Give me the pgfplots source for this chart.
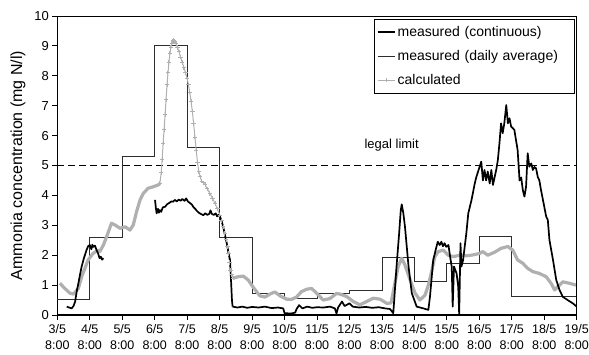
\documentclass[border=0pt]{standalone}
\usepackage{pgfplots}
\pgfplotsset{compat=1.18}
\usepackage{fontspec}
\setmainfont{Liberation Sans}
\definecolor{calcgray}{RGB}{176,176,176}
\definecolor{avggray}{RGB}{45,45,45}
\begin{document}
\begin{tikzpicture}
\useasboundingbox (-57.3pt,-40pt) rectangle (531.7pt,315pt);
\begin{axis}[
  scale only axis, width=519.4pt, height=299pt,
  xmin=0, xmax=16, ymin=0, ymax=10,
  axis x line*=bottom, axis y line*=left,
  x axis line style={line width=1.5pt, -},
  y axis line style={line width=1.5pt, -},
  xtick={0,...,16}, ytick={0,...,10},
  xticklabels={{3/5\\8:00},{4/5\\8:00},{5/5\\8:00},{6/5\\8:00},{7/5\\8:00},{8/5\\8:00},{9/5\\8:00},{10/5\\8:00},{11/5\\8:00},{12/5\\8:00},{13/5\\8:00},{14/5\\8:00},{15/5\\8:00},{16/5\\8:00},{17/5\\8:00},{18/5\\8:00},{19/5\\8:00}},
  xticklabel style={align=center, font=\fontsize{12.5}{16}\selectfont, yshift=-1pt},
  yticklabel style={font=\fontsize{13}{15}\selectfont},
  /pgf/number format/assume math mode=true,
  tick align=outside, major tick length=5pt,
  tick style={black, line width=0.8pt},
  ylabel={Ammonia concentration (mg N/l)},
  ylabel style={font=\fontsize{16}{18}\selectfont, at={(axis description cs:-0.0757,0.5)}, anchor=center},
  clip=false,
  legend style={at={(rel axis cs:0.9967,0.99)}, anchor=north east, draw=black, line width=0.6pt, font=\fontsize{14}{16}\selectfont, row sep=8.5pt, inner ysep=5pt, inner xsep=3pt,
    /tikz/every even column/.append style={text width=172pt}},
  legend cell align=left,
]
% legend
\addlegendimage{black, line width=1.8pt}
\addlegendentry{measured (continuous)}
\addlegendimage{avggray, line width=0.8pt}
\addlegendentry{measured (daily average)}
\addlegendimage{calcgray, line width=0.8pt, mark=+, mark size=2pt}
\addlegendentry{calculated}

% legal limit
\addplot[forget plot, black, line width=1.7pt, dash pattern=on 7pt off 4pt] coordinates {(0,5) (16,5)};
\node[font=\fontsize{13}{15}\selectfont] at (axis cs:10.3,5.69) {legal limit};

% daily average
\addplot[forget plot, const plot, avggray, line width=0.8pt] coordinates {
(0,0.52) (1,2.6) (2,5.3) (3,9.0) (4,5.6) (5,2.6) (6,0.73) (7,0.55) (8,0.73) (9,0.81) (10,1.93) (11,1.11) (12,1.73) (13,2.62) (14,0.61) (16,0.61)};

% calculated
\addplot[forget plot, calcgray, line width=3.2pt, line join=round] coordinates {
(0.08,1.06) (0.23,0.89) (0.39,0.73) (0.50,0.70) (0.65,0.89) (0.75,1.28) (0.85,1.56) (0.95,1.84) (1.10,2.06) (1.26,2.17) (1.31,2.12) (1.42,2.34) (1.52,2.62) (1.67,3.07) (1.78,3.01) (1.93,2.90) (2.09,2.95) (2.24,2.84) (2.34,3.01) (2.44,3.45) (2.55,3.85) (2.65,4.07) (2.80,4.24) (2.96,4.29) (3.11,4.35) (3.16,4.40)};
\addplot[forget plot, calcgray, line width=1pt, mark=+, mark size=2.2pt] coordinates {
(3.16,4.40) (3.20,4.75) (3.23,5.2) (3.26,5.75) (3.29,6.2) (3.32,6.7) (3.35,7.2) (3.38,7.7) (3.41,8.1) (3.44,8.45) (3.47,8.75) (3.50,8.95) (3.53,9.08) (3.56,9.17) (3.59,9.18) (3.62,9.15) (3.66,9.07) (3.70,8.95) (3.75,8.80) (3.80,8.62) (3.85,8.45) (3.90,8.28) (3.95,8.10) (4.00,7.90) (4.04,7.70) (4.08,7.45) (4.12,7.15) (4.16,6.80) (4.20,6.40) (4.24,5.95) (4.28,5.50) (4.32,5.10) (4.36,4.80) (4.40,4.62) (4.45,4.48) (4.50,4.42) (4.55,4.36) (4.62,4.22) (4.70,4.07) (4.78,3.90) (4.86,3.73) (4.93,3.55) (5.01,3.34) (5.06,3.15) (5.11,2.95) (5.16,2.72) (5.20,2.51) (5.24,2.28) (5.27,2.06) (5.31,1.75) (5.34,1.50) (5.38,1.35) (5.42,1.23)};
\addplot[forget plot, calcgray, line width=3.2pt, line join=round] coordinates {
(5.42,1.23) (5.57,1.28) (5.73,1.30) (5.88,1.17) (6.04,0.92) (6.24,0.64) (6.40,0.60) (6.55,0.70) (6.70,0.77) (6.86,0.64) (7.06,0.53) (7.21,0.52) (7.37,0.60) (7.52,0.78) (7.68,0.86) (7.83,0.89) (7.99,0.73) (8.19,0.50) (8.40,0.55) (8.60,0.72) (8.71,0.70) (8.91,0.62) (9.12,0.45) (9.32,0.34) (9.53,0.45) (9.73,0.56) (9.94,0.53) (10.15,0.39) (10.28,0.40) (10.40,1.06) (10.50,1.62) (10.61,1.90) (10.71,1.67) (10.87,1.17) (11.02,0.73) (11.17,0.50) (11.33,0.67) (11.43,1.00) (11.53,1.45) (11.63,1.95) (11.73,2.12) (11.89,2.17) (12.04,2.00) (12.20,1.95) (12.40,2.00) (12.61,1.98) (12.81,2.01) (13.01,2.06) (13.11,2.12) (13.26,2.00) (13.47,2.10) (13.67,2.23) (13.88,2.29) (14.03,2.17) (14.18,1.84) (14.34,1.73) (14.49,1.56) (14.65,1.45) (14.85,1.39) (15.06,1.28) (15.21,1.06) (15.32,0.84) (15.42,0.95) (15.57,1.11) (15.78,1.06) (15.98,1.00)};

% continuous measured
\addplot[forget plot, black, line width=1.7pt, line join=round] coordinates {
(0.29,0.28) (0.34,0.26) (0.44,0.22) (0.50,0.30) (0.55,0.45) (0.60,0.80) (0.65,1.06) (0.70,1.35) (0.75,1.62) (0.82,1.90) (0.90,2.17) (0.95,2.30) (1.00,2.34) (1.05,2.20) (1.08,2.35) (1.11,2.28) (1.16,2.32) (1.21,2.17) (1.26,2.05) (1.30,1.90) (1.34,1.95) (1.38,1.85) (1.42,1.90)};
\addplot[forget plot, black, line width=1.7pt, line join=round] coordinates {
(3.01,3.85) (3.04,3.55) (3.06,3.40) (3.10,3.55) (3.13,3.42) (3.16,3.51) (3.20,3.45) (3.25,3.60) (3.32,3.62) (3.38,3.70) (3.45,3.75) (3.52,3.80) (3.57,3.79) (3.62,3.85) (3.68,3.80) (3.74,3.86) (3.80,3.82) (3.85,3.88) (3.92,3.82) (3.97,3.90) (4.02,3.80) (4.08,3.75) (4.14,3.70) (4.20,3.60) (4.25,3.55) (4.30,3.48) (4.36,3.42) (4.42,3.38) (4.50,3.34) (4.56,3.40) (4.62,3.35) (4.68,3.38) (4.72,3.50) (4.76,3.38) (4.82,3.35) (4.88,3.40) (4.92,3.30) (4.97,3.35) (5.01,3.29) (5.06,3.15) (5.11,2.95) (5.16,2.70) (5.22,2.40) (5.27,2.10) (5.32,1.84) (5.35,1.20) (5.38,0.50) (5.40,0.28)};
\addplot[forget plot, black, line width=1.7pt, line join=round] coordinates {
(5.40,0.28) (5.55,0.25) (5.70,0.28) (5.85,0.24) (6.00,0.27) (6.20,0.25) (6.40,0.28) (6.60,0.23) (6.80,0.25) (6.96,0.22) (7.00,0.06) (7.20,0.05) (7.33,0.08) (7.37,0.20) (7.45,0.33) (7.55,0.22) (7.70,0.28) (7.85,0.24) (8.00,0.26) (8.20,0.25) (8.40,0.28) (8.55,0.22) (8.60,0.05) (8.65,0.25) (8.77,0.45) (8.85,0.30) (9.00,0.39) (9.10,0.28) (9.30,0.25) (9.50,0.27) (9.70,0.24) (9.90,0.26) (10.10,0.22) (10.25,0.20) (10.35,0.06) (10.45,1.62) (10.53,2.73) (10.58,3.50) (10.61,3.70) (10.66,3.40) (10.71,2.95) (10.82,1.62) (10.92,0.73) (11.07,0.28) (11.28,0.22) (11.43,0.17) (11.48,0.61) (11.58,1.84) (11.68,2.28) (11.72,2.45) (11.78,2.34) (11.83,2.45) (11.88,2.30) (11.93,2.40) (11.98,2.28) (12.05,2.34) (12.10,1.95) (12.15,1.62) (12.18,0.28) (12.22,1.62) (12.30,1.39) (12.35,0.95) (12.38,0.02) (12.42,2.40) (12.45,1.62) (12.50,1.84) (12.60,2.73) (12.66,3.40) (12.76,3.85) (12.86,4.40) (12.91,4.62) (13.01,4.96) (13.06,5.13) (13.11,4.50) (13.16,4.85) (13.21,4.50) (13.26,4.80) (13.32,4.40) (13.37,4.85) (13.42,4.35) (13.47,4.60) (13.52,4.85) (13.57,5.17) (13.62,5.74) (13.67,6.41) (13.72,6.08) (13.77,6.41) (13.83,7.02) (13.88,6.41) (13.93,6.58) (13.98,6.30) (14.03,6.25) (14.08,6.19) (14.13,5.85) (14.18,5.52) (14.24,4.50) (14.29,4.60) (14.34,4.18) (14.39,3.96) (14.44,4.29) (14.49,5.41) (14.54,4.96) (14.60,5.07) (14.65,4.85) (14.70,4.95) (14.75,4.90) (14.80,4.62) (14.85,4.50) (14.90,4.18) (14.96,3.85) (15.06,3.29) (15.11,3.18) (15.16,2.51) (15.27,1.84) (15.37,1.17) (15.47,0.84) (15.57,0.61) (15.72,0.50) (15.88,0.39) (16.00,0.28)};

% plot-area border (top and right)
\draw[black, line width=0.7pt] (rel axis cs:0,1) -- (rel axis cs:1,1) -- (rel axis cs:1,0);
\end{axis}
\end{tikzpicture}
\end{document}
